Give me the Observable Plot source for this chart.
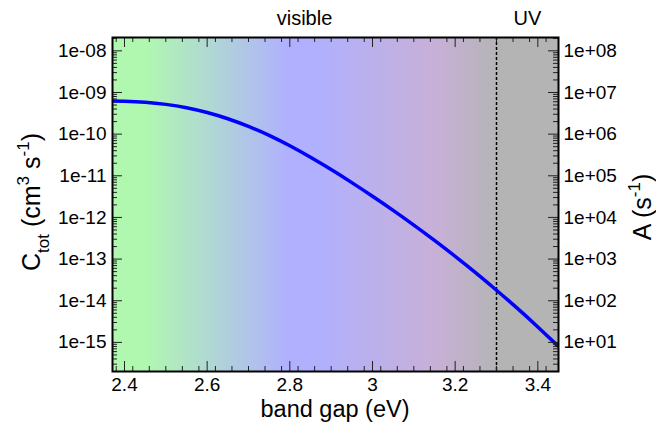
<!DOCTYPE html>
<html><head><meta charset="utf-8">
<script src="https://cdn.jsdelivr.net/npm/d3@7"></script>
<script src="https://cdn.jsdelivr.net/npm/@observablehq/plot@0.6"></script>
<style>body{margin:0;background:#fff}</style>
</head><body><div id="chart"></div>
<script>
// curve: band gap (eV) vs C_tot (cm^3 s^-1)
const bandGap = [2.37, 2.40, 2.45, 2.50, 2.55, 2.60, 2.65, 2.70, 2.75, 2.80, 2.85, 2.90, 2.95, 3.00, 3.05, 3.10, 3.15, 3.20, 3.25, 3.30, 3.35, 3.40, 3.45];
const cTot = [6.24e-10, 6.15e-10, 5.81e-10, 5.18e-10, 4.31e-10, 3.30e-10, 2.34e-10, 1.53e-10, 9.31e-11, 5.24e-11, 2.78e-11, 1.41e-11, 6.86e-12, 3.23e-12, 1.48e-12, 6.55e-13, 2.81e-13, 1.165e-13, 4.67e-14, 1.79e-14, 6.63e-15, 2.35e-15, 8.02e-16];

const xDomain = [2.371, 3.45];
const yDomain = [2.0e-16, 2.09e-8];

const xTicks = [2.4, 2.6, 2.8, 3.0, 3.2, 3.4];
const xTickLabels = ["2.4", "2.6", "2.8", "3", "3.2", "3.4"];
const yTicks = [1e-15, 1e-14, 1e-13, 1e-12, 1e-11, 1e-10, 1e-9, 1e-8];
const yTickLabelsLeft = ["1e-15", "1e-14", "1e-13", "1e-12", "1e-11", "1e-10", "1e-09", "1e-08"];
const yTickLabelsRight = ["1e+01", "1e+02", "1e+03", "1e+04", "1e+05", "1e+06", "1e+07", "1e+08"];

const regionNames = ["visible", "UV"];
const regionFrom = [2.371, 3.3];
const regionTo = [3.3, 3.45];
const uvEdge = [3.3];

const spectrumStops = [2.371, 2.45, 2.80, 2.86, 3.15, 3.29, 3.45];
const spectrumColors = ["#b0f8b0", "#b0f8b0", "#b0b0ff", "#b0b0ff", "#c8b0d8", "#b6b4b8", "#b4b4b5"];

const W = 656, H = 424, mT = 37, mB = 53, mL = 112, mR = 98;
const fw = W - mL - mR, fh = H - mT - mB;

// tick positions (inward ticks)
const xMinor = d3.range(119, 345, 2).map(v => v / 50).filter(v => v >= xDomain[0] && v <= xDomain[1] && !xTicks.some(t => Math.abs(t - v) < 1e-9));
const yMinor = [];
for (let e = -16; e <= -8; e++) for (let k = 2; k <= 9; k++) { const v = k * Math.pow(10, e); if (v >= yDomain[0] && v <= yDomain[1]) yMinor.push(v); }

const curveData = bandGap.map((x, i) => ({x, c: cTot[i]}));
const regions = regionNames.map((name, i) => ({name, x1: regionFrom[i], x2: regionTo[i], mid: (regionFrom[i] + regionTo[i]) / 2}));

const tk = "#222";
const font = "'Liberation Sans', Arial, Helvetica, sans-serif";
const plot = Plot.plot({
  width: W, height: H,
  marginTop: mT, marginBottom: mB, marginLeft: mL, marginRight: mR,
  style: {fontFamily: font, fontSize: "19px", background: "#fff", overflow: "visible"},
  x: {domain: xDomain},
  y: {type: "log", domain: yDomain},
  marks: [
    Plot.rect([regions[0]], {x1: "x1", x2: "x2", fill: "url(#spectrum)"}),
    Plot.rect([regions[1]], {x1: "x1", x2: "x2", fill: "#b4b4b5"}),
    Plot.ruleX(uvEdge, {stroke: "#000", strokeWidth: 1.5, strokeDasharray: "3,2"}),
    Plot.line(curveData, {x: "x", y: "c", stroke: "#0000ff", strokeWidth: 3.5, curve: "natural", clip: true}),
    // x ticks bottom & top
    Plot.tickX(xTicks, {x: d => d, insetTop: fh - 10, stroke: tk}),
    Plot.tickX(xTicks, {x: d => d, insetBottom: fh - 10, stroke: tk}),
    Plot.tickX(xMinor, {x: d => d, insetTop: fh - 5, stroke: tk}),
    Plot.tickX(xMinor, {x: d => d, insetBottom: fh - 5, stroke: tk}),
    // y ticks left & right
    Plot.tickY(yTicks, {y: d => d, insetRight: fw - 10, stroke: tk}),
    Plot.tickY(yTicks, {y: d => d, insetLeft: fw - 10, stroke: tk}),
    Plot.tickY(yMinor, {y: d => d, insetRight: fw - 5, stroke: tk}),
    Plot.tickY(yMinor, {y: d => d, insetLeft: fw - 5, stroke: tk}),
    Plot.frame({stroke: "#000", strokeWidth: 2}),
    Plot.axisX(xTicks, {anchor: "bottom", tickSize: 0, tickPadding: 6, label: null, fill: "#000", tickFormat: d => xTickLabels[xTicks.indexOf(d)]}),
    Plot.axisY(yTicks, {anchor: "left", tickSize: 0, tickPadding: 6, label: null, fill: "#000", tickFormat: d => yTickLabelsLeft[yTicks.indexOf(d)]}),
    Plot.axisY(yTicks, {anchor: "right", tickSize: 0, tickPadding: 5, label: null, fill: "#000", tickFormat: d => yTickLabelsRight[yTicks.indexOf(d)]}),
    Plot.text(regions, {x: "mid", text: "name", frameAnchor: "top", lineAnchor: "middle", dy: -19, fontSize: 20, fill: "#000"})
  ]
});

// spectrum gradient through the x scale
const xs = plot.scale("x");
const gx1 = xs.apply(spectrumStops[0]), gx2 = xs.apply(spectrumStops[spectrumStops.length - 1]);
const defs = d3.select(plot).insert("defs", ":first-child");
const grad = defs.append("linearGradient").attr("id", "spectrum").attr("gradientUnits", "userSpaceOnUse")
  .attr("x1", gx1).attr("x2", gx2).attr("y1", 0).attr("y2", 0);
spectrumStops.forEach((s, i) => grad.append("stop").attr("offset", (xs.apply(s) - gx1) / (gx2 - gx1)).attr("stop-color", spectrumColors[i]));

// axis titles
const svg = d3.select(plot);
svg.append("text").attr("x", mL + fw / 2).attr("y", 417).attr("text-anchor", "middle")
  .attr("font-family", font).attr("font-size", 23.5).attr("fill", "#000").text("band gap (eV)");

function rich(parent, parts) {
  const t = parent.append("text").attr("text-anchor", "middle").attr("font-family", font).attr("fill", "#000");
  parts.forEach(([s, size, dy]) => t.append("tspan").attr("font-size", size).attr("dy", dy).text(s));
  return t;
}
const gl = svg.append("g").attr("transform", `translate(40,${mT + fh / 2 - 2}) rotate(-90)`);
rich(gl, [["C", 25, 0], ["tot", 17, 9], ["\u00a0(cm", 25, -9], ["3", 17, -11], ["\u00a0s", 25, 11], ["-1", 17, -11], [")", 25, 11]]);
const gr = svg.append("g").attr("transform", `translate(651,${mT + fh / 2 + 3}) rotate(-90)`);
rich(gr, [["A (s", 25, 0], ["-1", 17, -11], [")", 25, 11]]);

document.getElementById("chart").append(plot);
</script>
</body></html>
